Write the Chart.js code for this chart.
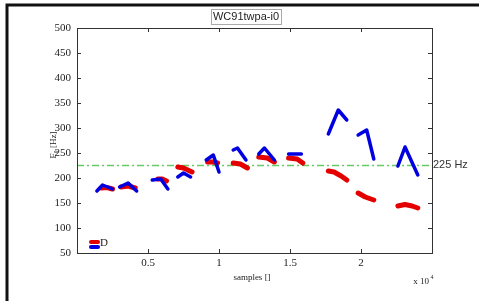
<!DOCTYPE html>
<html lang="en">
  <head>
    <meta charset="UTF-8" />
    <title>WC91twpa-i0</title>
    <script src="https://cdn.jsdelivr.net/npm/chart.js@4.4.1/dist/chart.umd.min.js"></script>
    <style>
      html, body { margin: 0; padding: 0; background: #fff; }
      #wrap { width: 479px; height: 301px; }
    </style>
  </head>
  <body>
    <div id="wrap"><canvas id="f0Chart" width="479" height="301"></canvas></div>

    <script>
      // samples (x 10^4); null breaks a track into separate pieces
      const blueX = [0.14, 0.18, 0.25, null, 0.30, 0.36, 0.42, null, 0.53, 0.59, 0.64, null,
        0.71, 0.75, 0.80, null, 0.91, 0.96, 1.00, null, 1.10, 1.13, 1.19, null,
        1.28, 1.32, 1.39, null, 1.49, 1.58, null, 1.77, 1.84, 1.90, null,
        1.98, 2.04, 2.09, null, 2.26, 2.31, 2.40];
      const blueY = [174, 186, 178, null, 182, 190, 174, null, 196, 198, 178, null,
        202, 210, 202, null, 236, 246, 212, null, 256, 260, 236, null,
        248, 260, 236, null, 248, 248, null, 288, 336, 316, null,
        286, 296, 238, null, 224, 262, 206];

      const redX = [0.17, 0.21, 0.25, null, 0.31, 0.36, 0.41, null, 0.57, 0.60, 0.63, null,
        0.71, 0.75, 0.81, null, 0.92, 0.96, 0.99, null, 1.10, 1.15, 1.20, null,
        1.28, 1.34, 1.39, null, 1.49, 1.55, 1.59, null, 1.77, 1.81, 1.86, 1.90, null,
        1.98, 2.03, 2.09, null, 2.26, 2.31, 2.36, 2.40];
      const redY = [180, 181, 178, null, 182, 184, 180, null, 198, 198, 194, null,
        222, 220, 212, null, 232, 232, 230, null, 230, 228, 220, null,
        242, 240, 232, null, 240, 238, 230, null, 214, 212, 204, 196, null,
        170, 162, 156, null, 144, 147, 144, 140];

      const refLevel = 225;
      const xMin = 0, xMax = 2.5;
      const yMin = 50, yMax = 500;

      function zip(xs, ys) {
        return xs.map((x, i) => ({ x: x === null ? NaN : x, y: ys[i] }));
      }

      const serif = "'Liberation Serif', 'Times New Roman', serif";
      const sans = "'Liberation Sans Narrow', 'Liberation Sans', Arial, sans-serif";

      const decor = {
        id: "decor",
        afterDraw(chart) {
          const ctx = chart.ctx;
          const a = chart.chartArea;
          const xs = chart.scales.x;
          const ys = chart.scales.y;
          ctx.save();

          // outer frame
          ctx.strokeStyle = "#111";
          ctx.lineWidth = 3;
          ctx.strokeRect(7, 5, 480, 310);

          // axes box
          ctx.strokeStyle = "#333";
          ctx.lineWidth = 1;
          ctx.strokeRect(a.left + 0.5, a.top + 0.5, a.right - a.left, a.bottom - a.top);

          // inward ticks
          ctx.beginPath();
          xs.ticks.forEach((t) => {
            const px = Math.round(xs.getPixelForValue(t.value)) + 0.5;
            ctx.moveTo(px, a.bottom); ctx.lineTo(px, a.bottom - 4);
            ctx.moveTo(px, a.top); ctx.lineTo(px, a.top + 4);
          });
          ys.ticks.forEach((t) => {
            const py = Math.round(ys.getPixelForValue(t.value)) + 0.5;
            ctx.moveTo(a.left, py); ctx.lineTo(a.left + 4, py);
            ctx.moveTo(a.right, py); ctx.lineTo(a.right - 4, py);
          });
          ctx.stroke();

          // title with light box
          ctx.font = "11px " + sans;
          ctx.fillStyle = "#222";
          ctx.textBaseline = "middle";
          ctx.textAlign = "center";
          const title = "WC91twpa-i0";
          const tw = ctx.measureText(title).width;
          const tx = 246;
          ctx.fillText(title, tx, 17);
          ctx.strokeStyle = "#aaa";
          ctx.strokeRect(Math.round(tx - tw / 2 - 2) + 0.5, 9.5, Math.round(tw + 4), 15);

          // reference label
          ctx.textAlign = "left";
          ctx.fillStyle = "#333";
          ctx.fillText(refLevel + " Hz", a.right + 1, ys.getPixelForValue(refLevel) - 1);

          // axis titles
          ctx.font = "9px " + serif;
          ctx.fillStyle = "#222";
          ctx.textAlign = "center";
          ctx.fillText("samples []", 252, 278);
          ctx.fillText("x 10", 421, 282);
          ctx.font = "6px " + serif;
          ctx.fillText("4", 432, 277);

          ctx.save();
          ctx.translate(54, 145);
          ctx.rotate(-Math.PI / 2);
          ctx.font = "9px " + serif;
          ctx.fillText("F\u2080 [Hz]", 0, 0);
          ctx.restore();

          // legend
          ctx.lineCap = "round";
          ctx.lineWidth = 4;
          ctx.strokeStyle = "#e00000";
          ctx.beginPath(); ctx.moveTo(91, 242); ctx.lineTo(98, 242); ctx.stroke();
          ctx.strokeStyle = "#0000e0";
          ctx.beginPath(); ctx.moveTo(91, 247); ctx.lineTo(98, 247); ctx.stroke();
          ctx.font = "11px " + serif;
          ctx.fillStyle = "#222";
          ctx.textAlign = "left";
          ctx.fillText("D", 100, 243);

          ctx.restore();
        }
      };

      new Chart(document.getElementById("f0Chart"), {
        type: "scatter",
        data: {
          datasets: [
            {
              label: "blue",
              data: zip(blueX, blueY),
              showLine: true,
              borderColor: "#0000e0",
              borderWidth: 3.5,
              borderCapStyle: "round",
              borderJoinStyle: "round",
              pointRadius: 0,
              spanGaps: false,
              order: 1
            },
            {
              label: "red",
              data: zip(redX, redY),
              showLine: true,
              borderColor: "#e40000",
              borderWidth: 5,
              borderCapStyle: "round",
              borderJoinStyle: "round",
              pointRadius: 0,
              spanGaps: false,
              order: 2
            },
            {
              label: "ref",
              data: [{ x: xMin, y: refLevel }, { x: xMax, y: refLevel }],
              showLine: true,
              borderColor: "#66cc66",
              borderWidth: 1.3,
              borderDash: [7, 3, 2, 3],
              pointRadius: 0,
              order: 3
            }
          ]
        },
        options: {
          responsive: false,
          animation: false,
          events: [],
          layout: { padding: { left: 0, right: 47, top: 28, bottom: 0 } },
          plugins: {
            legend: { display: false },
            title: { display: false },
            tooltip: { enabled: false }
          },
          scales: {
            x: {
              type: "linear",
              min: xMin,
              max: xMax,
              grid: { display: false, drawTicks: false },
              border: { display: false },
              ticks: {
                stepSize: 0.5,
                padding: 4,
                color: "#222",
                font: { family: serif, size: 11 },
                callback: (v) => (v === 0 || v === 2.5 ? "" : v)
              },
              afterFit: (s) => { s.height = 48; }
            },
            y: {
              min: yMin,
              max: yMax,
              grid: { display: false, drawTicks: false },
              border: { display: false },
              ticks: {
                stepSize: 50,
                padding: 6,
                color: "#222",
                font: { family: serif, size: 11 }
              },
              afterFit: (s) => { s.width = 77; }
            }
          }
        },
        plugins: [decor]
      });
    </script>
  </body>
</html>
